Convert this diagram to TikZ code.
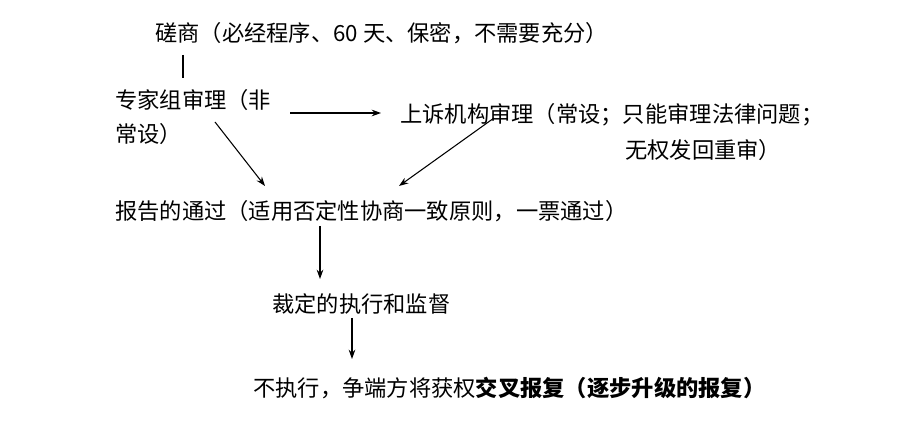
\documentclass[tikz,border=0pt]{standalone}
\usepackage{fontspec}
\setmainfont{Noto Sans CJK SC}
\usetikzlibrary{arrows.meta}
\begin{document}
\begin{tikzpicture}[x=0.75pt,y=-0.75pt,
  txt/.style={anchor=west,inner sep=0pt,font=\fontsize{16.7pt}{19pt}\selectfont},
  arr/.style={-{Stealth[length=7pt,width=5pt]},line width=0.8pt}]
\useasboundingbox (0,0) rectangle (908,434);
\node[txt] (a) at (155,33) {磋商（必经程序、60 天、保密，不需要充分）};
\coordinate (l1) at (183,55); \coordinate (l2) at (183,78);
\draw[line width=0.8pt] (l1) -- (l2);
\node[txt] (b1) at (115,100) {专家组审理（非};
\node[txt] (b2) at (115,134) {常设）};
\node[txt] (c1) at (400,115) {上诉机构审理（常设；只能审理法律问题；};
\node[txt] (c2) at (625,150) {无权发回重审）};
\node[txt] (d) at (115,211) {报告的通过（适用否定性协商一致原则，一票通过）};
\node[txt] (e) at (272,304) {裁定的执行和监督};
\node[txt] (f) at (253,388) {不执行，争端方将获权\textbf{交叉报复（逐步升级的报复）}};
\coordinate (p1) at (290,113); \coordinate (p2) at (381,113);
\draw[arr] (p1) -- (p2);
\coordinate (q1) at (215,122); \coordinate (q2) at (265,186);
\draw[arr] (q1) -- (q2);
\coordinate (r1) at (494,118); \coordinate (r2) at (399,186);
\draw[arr] (r1) -- (r2);
\coordinate (s1) at (320,226); \coordinate (s2) at (320,279);
\draw[arr] (s1) -- (s2);
\coordinate (t1) at (352,318); \coordinate (t2) at (352,359);
\draw[arr] (t1) -- (t2);
\end{tikzpicture}
\end{document}
